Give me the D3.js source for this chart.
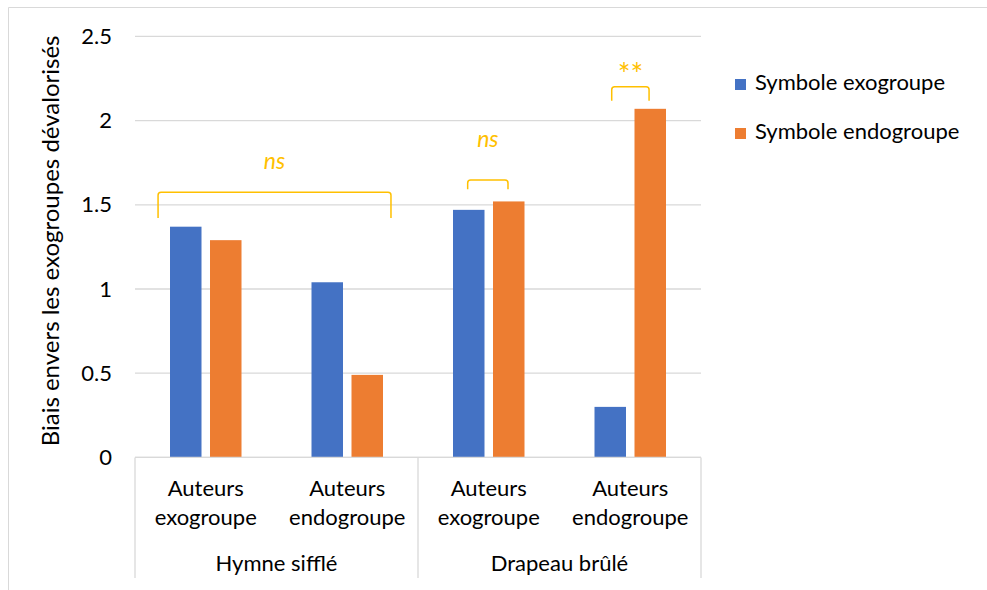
<!DOCTYPE html>
<html>
<head>
<meta charset="utf-8">
<script src="https://cdn.jsdelivr.net/npm/d3@7"></script>
<style>
  html, body { margin: 0; padding: 0; background: #fff; }
  svg { display: block; }
  text { font-family: Lato, "Open Sans", sans-serif; fill: #000; }
</style>
</head>
<body>
<svg id="chart" width="987" height="590"></svg>
<script>
// ---- data ----
const groups = ["Hymne sifflé", "Drapeau brûlé"];
const authors = ["Auteurs exogroupe", "Auteurs endogroupe"];
const categories = [
  { group: "Hymne sifflé", label: ["Auteurs", "exogroupe"] },
  { group: "Hymne sifflé", label: ["Auteurs", "endogroupe"] },
  { group: "Drapeau brûlé", label: ["Auteurs", "exogroupe"] },
  { group: "Drapeau brûlé", label: ["Auteurs", "endogroupe"] }
];
const seriesNames = ["Symbole exogroupe", "Symbole endogroupe"];
const exoValues = [1.37, 1.04, 1.47, 0.30];
const endoValues = [1.29, 0.49, 1.52, 2.07];
const yTicks = [0, 0.5, 1, 1.5, 2, 2.5];
const yTitle = "Biais envers les exogroupes dévalorisés";
// significance annotations: span in category units, bracket top/bottom in data units
const sigLabels = ["ns", "ns", "**"];
const sigSpans = [[0.163, 1.809], [2.351, 2.636], [3.369, 3.633]];
const sigTops = [1.574, 1.647, 2.201];
const sigBottoms = [1.422, 1.592, 2.118];
const sigTextY = [1.76, 1.89, 2.24];

// ---- layout ----
const svg = d3.select("#chart");
const plot = { left: 135, right: 701, top: 36.4, bottom: 457.4 };
const colors = ["#4472C4", "#ED7D31"];
const gridColor = "#d9d9d9";
const fontSize = 22;

// outer frame
svg.append("path")
  .attr("d", "M8.5,600 L8.5,7.5 L1000,7.5")
  .attr("fill", "none").attr("stroke", gridColor).attr("stroke-width", 1);

const y = d3.scaleLinear().domain([0, 2.5]).range([plot.bottom, plot.top]);
const x = d3.scaleBand().domain(d3.range(categories.length)).range([plot.left, plot.right]).padding(0);
const xc = d3.scaleLinear().domain([0, categories.length]).range([plot.left, plot.right]);

// gridlines
svg.append("g").selectAll("line").data(yTicks).join("line")
  .attr("x1", plot.left).attr("x2", plot.right)
  .attr("y1", d => y(d)).attr("y2", d => y(d))
  .attr("stroke", gridColor).attr("stroke-width", 1.3);

// y axis labels via d3 axis
const yAxis = d3.axisLeft(y).tickValues(yTicks).tickSize(0).tickPadding(0)
  .tickFormat(d => d === 0 ? "0" : d3.format("")(d));
const gy = svg.append("g").attr("transform", `translate(${112},0)`).call(yAxis);
gy.select(".domain").remove();
gy.selectAll("text").attr("font-family", "Lato, sans-serif").attr("font-size", fontSize)
  .attr("fill", "#000").attr("dy", "0.32em");

// y title
svg.append("text")
  .attr("transform", `translate(59,${(plot.top + plot.bottom) / 2 - 6}) rotate(-90)`)
  .attr("text-anchor", "middle").attr("font-size", 24)
  .text(yTitle);

// bars
const barW = 31.5, gap = 8.5;
const seriesData = [exoValues, endoValues];
seriesData.forEach((vals, s) => {
  svg.append("g").selectAll("rect").data(vals).join("rect")
    .attr("x", (d, i) => {
      const c = x(i) + x.bandwidth() / 2;
      return s === 0 ? c - gap / 2 - barW : c + gap / 2;
    })
    .attr("width", barW)
    .attr("y", d => y(d))
    .attr("height", d => y(0) - y(d))
    .attr("fill", colors[s]);
});

// category axis lines
const axisBottom = 578;
svg.append("line").attr("x1", plot.left).attr("x2", plot.right)
  .attr("y1", plot.bottom).attr("y2", plot.bottom)
  .attr("stroke", gridColor).attr("stroke-width", 1.3);
const groupBounds = [0, 2, 4];
svg.append("g").selectAll("line").data(groupBounds).join("line")
  .attr("x1", d => xc(d)).attr("x2", d => xc(d))
  .attr("y1", plot.bottom).attr("y2", axisBottom)
  .attr("stroke", gridColor).attr("stroke-width", 1.3);

// level-1 labels
const lvl1 = svg.append("g").selectAll("text").data(categories).join("text")
  .attr("text-anchor", "middle").attr("font-size", fontSize)
  .attr("x", (d, i) => x(i) + x.bandwidth() / 2)
  .attr("y", 496);
lvl1.selectAll("tspan").data(d => d.label).join("tspan")
  .attr("x", function () { return d3.select(this.parentNode).attr("x"); })
  .attr("dy", (d, j) => j === 0 ? 0 : 29)
  .text(d => d);

// level-2 labels
svg.append("g").selectAll("text").data(groups).join("text")
  .attr("text-anchor", "middle").attr("font-size", fontSize)
  .attr("x", (d, i) => (xc(i * 2) + xc(i * 2 + 2)) / 2)
  .attr("y", 571)
  .text(d => d);

// legend
const leg = svg.append("g").selectAll("g").data(seriesNames).join("g")
  .attr("transform", (d, i) => `translate(735,${79 + i * 49})`);
leg.append("rect").attr("width", 11).attr("height", 11).attr("fill", (d, i) => colors[i]);
leg.append("text").attr("x", 20).attr("y", 11).attr("font-size", fontSize).text(d => d);

// significance brackets
const gold = "#FFC000";
sigLabels.forEach((lab, k) => {
  const x1 = xc(sigSpans[k][0]), x2 = xc(sigSpans[k][1]);
  const yt = y(sigTops[k]), yb = y(sigBottoms[k]);
  const r = 3;
  const isNs = lab === "ns";
  svg.append("path")
    .attr("d", `M${x1},${yb} L${x1},${yt + r} Q${x1},${yt} ${x1 + r},${yt} L${x2 - r},${yt} Q${x2},${yt} ${x2},${yt + r} L${x2},${yb}`)
    .attr("fill", "none").attr("stroke", gold).attr("stroke-width", 1.5);
  svg.append("text")
    .attr("x", (x1 + x2) / 2).attr("y", y(sigTextY[k]))
    .attr("dy", isNs ? "0.35em" : "0.15em")
    .attr("text-anchor", "middle").attr("font-size", isNs ? 23 : 30)
    .attr("font-style", isNs ? "italic" : "normal")
    .style("fill", gold)
    .text(lab);
});
</script>
</body>
</html>
